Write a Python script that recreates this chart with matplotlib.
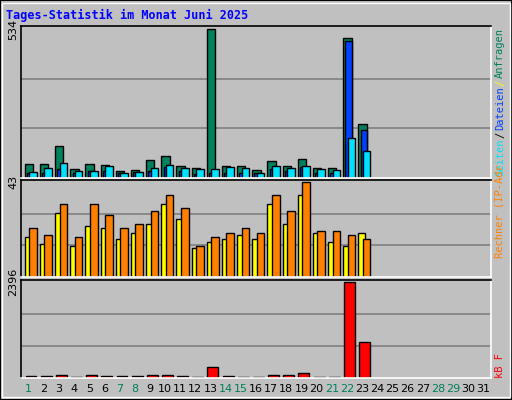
import matplotlib
matplotlib.use("Agg")
import matplotlib.pyplot as plt
from matplotlib.patches import Rectangle

# Daten Juni 2025 (Tage 1..23)
tage = list(range(1, 24))
anfragen = [50, 50, 115, 32, 50, 46, 24, 28, 64, 79, 42, 36, 534, 42, 42, 28, 61, 42, 68, 36, 36, 501, 192]
dateien = [18, 18, 34, 18, 25, 25, 18, 22, 25, 38, 25, 13, 18, 18, 18, 18, 34, 25, 38, 18, 18, 491, 171]
seiten = [21, 36, 53, 24, 24, 42, 17, 21, 36, 46, 36, 32, 32, 39, 36, 17, 42, 36, 42, 32, 28, 144, 97]
besuche = [18, 15, 29, 14, 23, 22, 17, 20, 24, 33, 26, 13, 16, 17, 19, 17, 33, 24, 37, 20, 16, 14, 20]
rechner = [22, 19, 33, 18, 33, 28, 22, 24, 30, 37, 31, 14, 18, 20, 22, 20, 37, 30, 43, 21, 21, 19, 17]
kbytes = [61, 61, 87, 35, 87, 61, 61, 61, 87, 87, 61, 35, 271, 61, 35, 35, 87, 87, 114, 35, 35, 2396, 900]
wochenende = [1, 7, 8, 14, 15, 21, 22, 28, 29]

W, H = 512, 400
fig = plt.figure(figsize=(W / 100, H / 100), dpi=100, facecolor="#c0c0c0")
fig.patches.append(Rectangle((0, 0), 1, 1, transform=fig.transFigure, fill=False, ec="black", lw=1.5))
fig.patches.append(Rectangle((2 / W, 3 / H), 508 / W, 394 / H, transform=fig.transFigure,
                             fill=False, ec="white", lw=1))


def panel(top, bottom, vmax):
    ax = fig.add_axes([21 / W, 1 - bottom / H, 470 / W, (bottom - top) / H], facecolor="#c0c0c0")
    ax.set_xlim(0.5, 31.5)
    ax.set_ylim(0, vmax * 1.02)
    for g in (vmax / 3, vmax * 2 / 3):
        ax.axhline(g, color="#808080", lw=1.2, zorder=0)
    ax.set_xticks([])
    ax.set_yticks([vmax])
    ax.set_yticklabels([str(vmax)], rotation=90, va="center", fontsize=8)
    ax.tick_params(length=0, pad=2)
    for s in ax.spines.values():
        s.set_color("white")
        s.set_linewidth(1.2)
    ax.spines["left"].set_color("black")
    ax.spines["top"].set_color("black")
    return ax


kw = dict(align="edge", edgecolor="black", linewidth=1)
ax1 = panel(26, 178, 534)
ax1.bar([t - 0.25 for t in tage], anfragen, width=0.55, color="#00805c", **kw)
ax1.bar([t - 0.1 for t in tage], dateien, width=0.4, color="#0040ff", **kw)
ax1.bar([t + 0.05 for t in tage], seiten, width=0.5, color="#00e0ff", **kw)

ax2 = panel(180, 277, 43)
ax2.bar([t - 0.25 for t in tage], besuche, width=0.45, color="#ffff00", **kw)
ax2.bar([t + 0.05 for t in tage], rechner, width=0.5, color="#ff8000", **kw)

ax3 = panel(280, 378, 2396)
ax3.bar([t - 0.2 for t in tage], kbytes, width=0.72, color="#ff0000", **kw)

for d in range(1, 32):
    fig.text((21 + (d - 0.5) * 470 / 31) / W, 1 - 389 / H, str(d), ha="center", va="center",
             fontsize=8, color="#00805c" if d in wochenende else "black")

fig.text(6 / W, 1 - 15 / H, "Tages-Statistik im Monat Juni 2025", color="#0000ff",
         fontsize=8.5, fontweight="bold", family="DejaVu Sans Mono", va="center")

renderer = fig.canvas.get_renderer()


def rechts(ybottom, teile):
    y = ybottom
    for txt, col in teile:
        t = fig.text(500 / W, 1 - y / H, txt, rotation=90, color=col, fontsize=7.5,
                     family="DejaVu Sans Mono", ha="center", va="bottom")
        y -= t.get_window_extent(renderer).height + 1


rechts(176, [("Seiten", "#00e0ff"), ("/", "black"), ("Dateien", "#0040ff"), ("/", "#ffff00"), ("Anfragen", "#00805c")])
rechts(258, [("Rechner (IP-Adr", "#ff8000")])
rechts(378, [("kB F", "#ff0000")])

fig.savefig("out.png", dpi=100, facecolor=fig.get_facecolor())
